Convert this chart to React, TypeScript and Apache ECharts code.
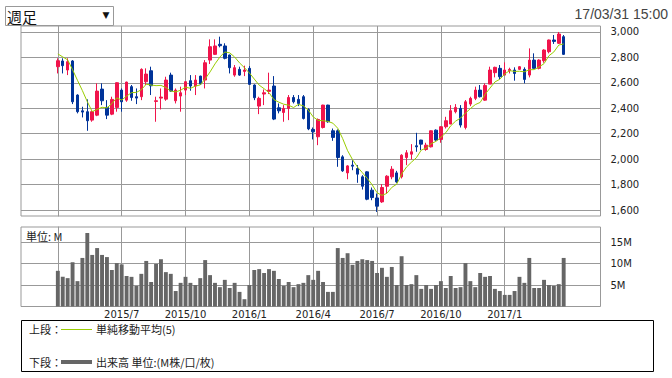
import React, { useEffect, useRef } from 'react';
import * as echarts from 'echarts';

const weeks = [
  '2015/4/6','2015/4/13','2015/4/20','2015/4/27','2015/5/4','2015/5/11','2015/5/18','2015/5/25','2015/6/1','2015/6/8',
  '2015/6/15','2015/6/22','2015/6/29','2015/7/6','2015/7/13','2015/7/20','2015/7/27','2015/8/3','2015/8/10','2015/8/17',
  '2015/8/24','2015/8/31','2015/9/7','2015/9/14','2015/9/21','2015/9/28','2015/10/5','2015/10/12','2015/10/19','2015/10/26',
  '2015/11/2','2015/11/9','2015/11/16','2015/11/23','2015/11/30','2015/12/7','2015/12/14','2015/12/21','2015/12/28',
  '2016/1/4','2016/1/11','2016/1/18','2016/1/25','2016/2/1','2016/2/8','2016/2/15','2016/2/22','2016/2/29','2016/3/7',
  '2016/3/14','2016/3/21','2016/3/28','2016/4/4','2016/4/11','2016/4/18','2016/4/25','2016/5/2','2016/5/9','2016/5/16',
  '2016/5/23','2016/5/30','2016/6/6','2016/6/13','2016/6/20','2016/6/27','2016/7/4','2016/7/11','2016/7/18','2016/7/25',
  '2016/8/1','2016/8/8','2016/8/15','2016/8/22','2016/8/29','2016/9/5','2016/9/12','2016/9/19','2016/9/26','2016/10/3',
  '2016/10/10','2016/10/17','2016/10/24','2016/10/31','2016/11/7','2016/11/14','2016/11/21','2016/11/28','2016/12/5','2016/12/12',
  '2016/12/19','2016/12/26',
  '2017/1/2','2017/1/9','2017/1/16','2017/1/23','2017/1/30','2017/2/6','2017/2/13','2017/2/20','2017/2/27','2017/3/6',
  '2017/3/13','2017/3/20','2017/3/27',
];

const open = [
  2727, 2772, 2701, 2772, 2504, 2380, 2373, 2307, 2346, 2551,
  2407, 2354, 2407, 2543, 2464, 2570, 2491, 2491, 2609, 2695,
  2454, 2480, 2472, 2661, 2459, 2496, 2543, 2617, 2575, 2653,
  2622, 2779, 2824, 2903, 2890, 2819, 2661, 2706, 2690, 2714,
  2583, 2417, 2512, 2533, 2575, 2404, 2367, 2399, 2485, 2470,
  2491, 2390, 2234, 2176, 2249, 2425, 2223, 2223, 2018, 1892,
  1953, 1926, 1861, 1900, 1756, 1695, 1664, 1787, 1861, 1892,
  1861, 2013, 2039, 2105, 2150, 2076, 2097, 2228, 2155, 2255,
  2276, 2373, 2399, 2249, 2433, 2478, 2543, 2464, 2590, 2680,
  2714, 2661, 2696, 2701, 2706, 2706, 2661, 2779, 2714, 2774,
  2845, 2937, 2911, 2963,
];

const close = [
  2774, 2735, 2766, 2451, 2373, 2370, 2302, 2373, 2535, 2459,
  2346, 2470, 2601, 2451, 2606, 2485, 2480, 2706, 2669, 2577,
  2459, 2488, 2622, 2535, 2543, 2522, 2609, 2575, 2622, 2591,
  2758, 2884, 2890, 2892, 2793, 2719, 2719, 2661, 2701, 2588,
  2483, 2478, 2522, 2543, 2315, 2380, 2399, 2485, 2451, 2438,
  2320, 2238, 2215, 2312, 2425, 2294, 2171, 2013, 1908, 1947,
  1945, 1882, 1787, 1685, 1698, 1630, 1777, 1866, 1921, 1821,
  2031, 2050, 2058, 2097, 2118, 2110, 2223, 2150, 2255, 2302,
  2381, 2407, 2268, 2451, 2478, 2543, 2491, 2580, 2701, 2722,
  2648, 2701, 2706, 2674, 2727, 2627, 2779, 2714, 2779, 2858,
  2937, 2926, 2984, 2824,
];

const low = [
  2674, 2674, 2661, 2433, 2360, 2328, 2223, 2294, 2338, 2425,
  2315, 2346, 2373, 2373, 2451, 2459, 2433, 2464, 2583, 2504,
  2294, 2391, 2459, 2530, 2438, 2373, 2504, 2538, 2504, 2583,
  2556, 2748, 2819, 2879, 2785, 2674, 2648, 2655, 2653, 2583,
  2464, 2354, 2425, 2512, 2307, 2360, 2294, 2307, 2438, 2417,
  2312, 2228, 2155, 2110, 2241, 2286, 2144, 1940, 1900, 1842,
  1913, 1814, 1761, 1677, 1677, 1585, 1656, 1730, 1842, 1814,
  1848, 1953, 1997, 2058, 2071, 2066, 2092, 2144, 2129, 2241,
  2276, 2360, 2249, 2234, 2417, 2464, 2485, 2459, 2590, 2643,
  2627, 2661, 2674, 2617, 2701, 2596, 2643, 2714, 2706, 2758,
  2832, 2906, 2906, 2819,
];

const high = [
  2793, 2793, 2793, 2779, 2510, 2412, 2470, 2381, 2596, 2596,
  2464, 2491, 2604, 2556, 2609, 2583, 2556, 2714, 2714, 2727,
  2491, 2556, 2648, 2680, 2556, 2570, 2612, 2661, 2661, 2656,
  2779, 2942, 2942, 2963, 2911, 2822, 2740, 2727, 2735, 2732,
  2588, 2491, 2548, 2680, 2653, 2438, 2425, 2504, 2504, 2504,
  2504, 2400, 2249, 2320, 2428, 2428, 2241, 2234, 2031, 1953,
  1992, 1953, 1874, 1905, 1777, 1730, 1803, 1874, 1945, 1908,
  2039, 2071, 2118, 2207, 2152, 2129, 2226, 2234, 2258, 2333,
  2425, 2433, 2425, 2465, 2491, 2570, 2583, 2596, 2727, 2727,
  2740, 2761, 2719, 2722, 2732, 2722, 2871, 2832, 2785, 2864,
  2940, 2976, 3000, 2976,
];

// volume in millions
const volume = [
  8.3, 6.9, 6.6, 10.3, 5.9, 11.3, 17.1, 12.0, 13.6, 12.0,
  11.5, 8.5, 10.1, 9.8, 7.1, 6.9, 4.8, 7.6, 10.6, 5.7,
  9.9, 11.0, 8.0, 7.6, 3.6, 5.5, 6.9, 5.5, 5.0, 6.6,
  10.8, 7.3, 5.5, 4.5, 6.2, 4.3, 5.5, 3.4, 1.7, 5.0,
  8.5, 8.7, 7.8, 8.7, 8.3, 6.4, 4.8, 5.7, 4.5, 5.2,
  5.5, 7.3, 6.2, 8.3, 5.7, 3.4, 3.4, 13.6, 11.3, 12.4,
  9.7, 10.6, 11.0, 10.8, 10.6, 7.8, 9.0, 6.9, 9.2, 5.0,
  11.7, 5.0, 5.2, 7.3, 4.1, 5.0, 4.1, 5.0, 5.9, 4.3,
  7.1, 4.3, 4.5, 10.1, 5.9, 4.5, 7.8, 6.9, 7.1, 4.1,
  3.6, 2.7, 2.7, 3.6, 6.9, 5.5, 11.3, 4.3, 4.3, 6.2,
  5.0, 4.8, 5.2, 11.3,
];

// closes of the 4 weeks before the first shown week (for the 5-week average)
const preCloses = [2850, 2880, 2840, 2790];

const priceTicks = [1600, 1800, 2000, 2200, 2400, 2600, 2800, 3000];
const volumeTicks = [5, 10, 15];
const quarterMonths = [1, 4, 7, 10];
const maPeriod = 5;

const RED = '#f0144b';
const BLUE = '#003399';
const GRID = '#999999';
const MA = '#99cc00';
const VOL = '#666666';

export default function App() {
  const ref = useRef<HTMLDivElement>(null);

  useEffect(() => {
    if (!ref.current) return;
    const chart = echarts.init(ref.current, null, { renderer: 'svg' });

    // first week of each quarter month (a month change from the previous week)
    const quarterIdx: number[] = [];
    weeks.forEach((w, i) => {
      if (i === 0) return;
      const m = Number(w.split('/')[1]);
      const pm = Number(weeks[i - 1].split('/')[1]);
      if (m !== pm && quarterMonths.includes(m)) quarterIdx.push(i);
    });
    const qLabel = (v: number) => {
      const w = weeks[Math.round(v)];
      if (!w) return '';
      const [y, m] = w.split('/');
      return `${y}/${m}`;
    };

    const allCloses = [...preCloses, ...close];
    const ma = close.map((_, i) => {
      const seg = allCloses.slice(i + preCloses.length - maPeriod + 1, i + preCloses.length + 1);
      return [i, Math.round(seg.reduce((a, b) => a + b, 0) / maPeriod)];
    });

    const candles = weeks.map((_, i) => [i, open[i], close[i], low[i], high[i]]);
    const vols = weeks.map((_, i) => [i, volume[i]]);

    const xMin = -7.5;
    const xMax = weeks.length - 1 + 7.5;

    const labelFont = { fontFamily: 'DejaVu Sans', fontSize: 10, color: '#222' };

    chart.setOption({
      animation: false,
      backgroundColor: '#ffffff',
      grid: [
        { left: 21, right: 71.5, top: 26, height: 190, show: true, borderColor: GRID, borderWidth: 1, backgroundColor: 'transparent' },
        { left: 21, right: 71.5, top: 227, height: 79.5, show: true, borderColor: GRID, borderWidth: 1, backgroundColor: 'transparent' },
      ],
      xAxis: [
        {
          type: 'value', gridIndex: 0, min: xMin, max: xMax,
          axisLine: { show: false }, axisLabel: { show: false, customValues: quarterIdx },
          axisTick: { show: false, customValues: quarterIdx },
          splitLine: { show: true, lineStyle: { color: GRID, width: 1 } },
        },
        {
          type: 'value', gridIndex: 1, min: xMin, max: xMax,
          axisLine: { show: false },
          axisTick: { show: false, customValues: quarterIdx },
          axisLabel: { show: true, customValues: quarterIdx, formatter: qLabel, margin: 3, ...labelFont },
          splitLine: { show: true, lineStyle: { color: GRID, width: 1 } },
        },
      ],
      yAxis: [
        {
          type: 'value', gridIndex: 0, position: 'right', min: 1553, max: 3047,
          axisLine: { show: true, lineStyle: { color: GRID } },
          axisTick: { show: true, length: 5, lineStyle: { color: GRID }, customValues: priceTicks },
          axisLabel: { show: true, margin: 10, customValues: priceTicks, formatter: (v: number) => v.toLocaleString('en-US'), ...labelFont },
          splitLine: { show: true, lineStyle: { color: GRID, width: 1 } },
        },
        {
          type: 'value', gridIndex: 1, position: 'right', min: 0, max: 18.5,
          axisLine: { show: true, lineStyle: { color: GRID } },
          axisTick: { show: true, length: 5, lineStyle: { color: GRID }, customValues: volumeTicks },
          axisLabel: { show: true, margin: 10, customValues: volumeTicks, formatter: (v: number) => `${v}M`, ...labelFont },
          splitLine: { show: true, lineStyle: { color: GRID, width: 1 } },
        },
      ],
      series: [
        {
          type: 'candlestick', xAxisIndex: 0, yAxisIndex: 0, data: candles, barWidth: 3,
          itemStyle: { color: RED, color0: BLUE, borderColor: RED, borderColor0: BLUE, borderWidth: 1 },
        },
        {
          type: 'line', xAxisIndex: 0, yAxisIndex: 0, data: ma, showSymbol: false, symbol: 'none',
          lineStyle: { color: MA, width: 1 }, z: 3,
        },
        {
          type: 'bar', xAxisIndex: 1, yAxisIndex: 1, data: vols, barWidth: 3.9,
          itemStyle: { color: VOL },
        },
      ],
      graphic: [
        { type: 'rect', z: 100, shape: { x: 5.5, y: 6.5, width: 108, height: 19 }, style: { fill: '#fff', stroke: '#999', lineWidth: 1 } },
        { type: 'text', z: 101, x: 7, y: 16.5, style: { text: '週足', fontFamily: 'Noto Sans CJK JP', fontSize: 15, fill: '#111', verticalAlign: 'middle' } },
        { type: 'text', z: 101, x: 106, y: 15, style: { text: '▼', fontFamily: 'DejaVu Sans', fontSize: 9, fill: '#111', align: 'center', verticalAlign: 'middle' } },
        { type: 'text', z: 101, x: 668, y: 14, style: { text: '17/03/31 15:00', fontFamily: 'Liberation Sans', fontSize: 14, fill: '#444', align: 'right', verticalAlign: 'middle' } },
        { type: 'text', z: 101, x: 26, y: 235.5, style: { text: '単位: M', fontFamily: 'Noto Sans CJK JP', fontSize: 11, fill: '#222', verticalAlign: 'middle' } },
        { type: 'rect', z: 100, shape: { x: 21.5, y: 320.5, width: 632, height: 51 }, style: { fill: '#fff', stroke: '#000', lineWidth: 1 } },
        { type: 'text', z: 101, x: 29, y: 329, style: { text: '上段：', fontFamily: 'Noto Sans CJK JP', fontSize: 11, fill: '#222', verticalAlign: 'middle' } },
        { type: 'line', z: 101, shape: { x1: 61, y1: 329.5, x2: 92, y2: 329.5 }, style: { stroke: MA, lineWidth: 1 } },
        { type: 'text', z: 101, x: 96, y: 329, style: { text: '単純移動平均(5)', fontFamily: 'Noto Sans CJK JP', fontSize: 11, fill: '#222', verticalAlign: 'middle' } },
        { type: 'text', z: 101, x: 29, y: 362, style: { text: '下段：', fontFamily: 'Noto Sans CJK JP', fontSize: 11, fill: '#222', verticalAlign: 'middle' } },
        { type: 'line', z: 101, shape: { x1: 61, y1: 362, x2: 92, y2: 362 }, style: { stroke: VOL, lineWidth: 4 } },
        { type: 'text', z: 101, x: 96, y: 362, style: { text: '出来高 単位:(M株/口/枚)', fontFamily: 'Noto Sans CJK JP', fontSize: 11, fill: '#222', verticalAlign: 'middle' } },
      ],
    });

    return () => chart.dispose();
  }, []);

  return (
    <div
      ref={ref}
      style={{ position: 'fixed', left: 0, top: 0, width: 672, height: 378, background: '#fff' }}
    />
  );
}
